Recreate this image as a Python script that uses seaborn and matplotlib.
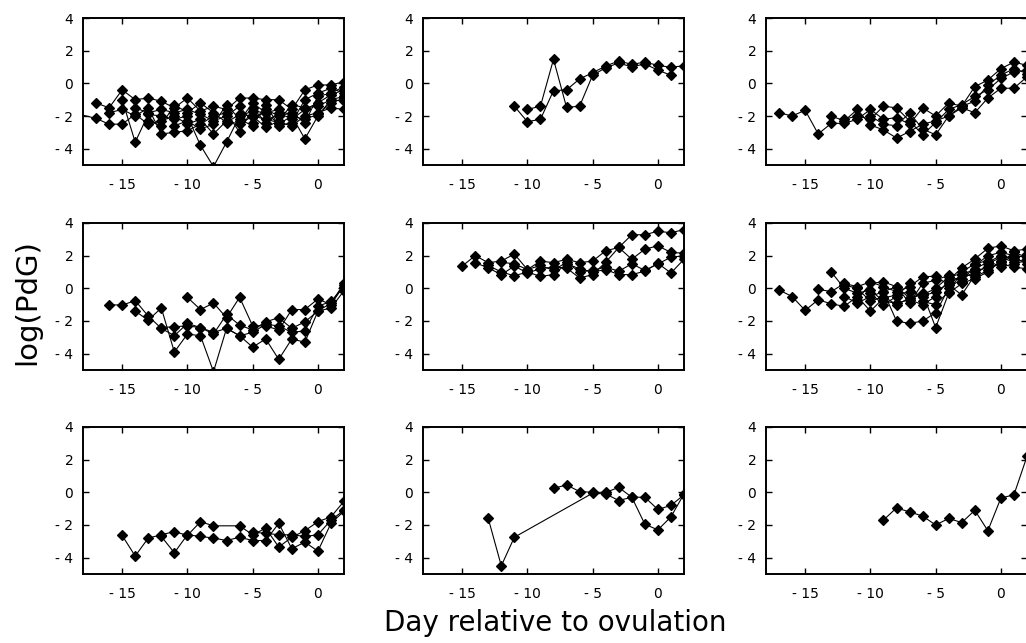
import matplotlib.pyplot as plt
import pandas as pd
import seaborn as sns

# ---------------------------------------------------------------------------
# Data: log(PdG) per cycle, by day relative to ovulation (one list per cycle)
# ---------------------------------------------------------------------------
P1_DAYS = [
    list(range(-17, 3)),
    [-19] + list(range(-17, 3)),
    list(range(-15, 3)),
    list(range(-16, 3)),
    list(range(-14, 3)),
    list(range(-13, 3)),
    list(range(-11, 3)),
    list(range(-6, 3)),
]
P1_LOGPDG = [
    [-1.2, -1.5, -0.4, -1.0, -0.9, -1.1, -1.5, -0.9, -1.7, -1.4, -1.6, -0.9, -0.9, -1.0, -1.0, -1.6, -0.4, -0.1, -0.1, 0.1],
    [-1.75, -2.15, -2.5, -2.5, -1.9, -2.5, -2.3, -2.0, -2.5, -2.2, -3.1, -2.3, -2.5, -2.0, -2.2, -2.4, -2.6, -2.0, -1.8, -1.5, -1.6],
    [-1.0, -3.6, -1.9, -2.0, -2.2, -2.0, -3.8, -5.1, -3.6, -2.0, -1.7, -1.8, -1.6, -2.0, -3.4, -2.0, -1.0, -0.8],
    [-1.8, -1.6, -2.0, -1.5, -3.1, -3.0, -2.9, -2.5, -2.0, -1.8, -3.0, -1.5, -2.4, -1.8, -2.2, -1.6, -1.2, -0.7, -0.4],
    [-1.5, -1.8, -1.6, -1.8, -1.6, -1.9, -2.3, -2.0, -1.4, -2.4, -1.6, -2.0, -1.8, -2.4, -0.8, -0.6, -0.2],
    [-2.3, -2.6, -1.3, -1.8, -1.2, -1.8, -2.4, -1.9, -2.0, -2.7, -2.3, -1.3, -1.5, -1.4, -1.0, -1.1],
    [-2.6, -2.3, -2.8, -2.5, -1.3, -2.2, -2.6, -1.3, -2.6, -2.4, -1.0, -0.6, -0.3, -0.6],
    [-2.3, -1.2, -1.8, -2.5, -2.0, -2.2, -1.9, -1.2, -0.9],
]

P2_DAYS = [list(range(-11, 3)), list(range(-10, 2))]
P2_LOGPDG = [
    [-1.4, -2.35, -2.2, -0.45, -0.4, 0.27, 0.65, 1.06, 1.37, 1.16, 1.3, 1.1, 0.98, 1.08],
    [-1.6, -1.4, 1.47, -1.47, -1.4, 0.5, 0.95, 1.25, 1.0, 1.2, 0.8, 0.5],
]

P3_DAYS = [list(range(-17, 3)), list(range(-13, 3)), list(range(-12, 3)), list(range(-10, 3))]
P3_LOGPDG = [
    [-1.8, -2.0, -1.65, -3.1, -2.45, -2.45, -2.2, -1.6, -2.2, -2.1, -2.5, -1.5, -2.0, -1.2, -1.4, -0.2, 0.2, 0.9, 1.3, 1.1],
    [-2.0, -2.3, -1.6, -2.55, -2.85, -3.35, -2.95, -2.5, -2.3, -2.0, -1.5, -1.8, -0.9, -0.3, -0.3, 0.4],
    [-2.2, -2.0, -2.2, -1.4, -1.5, -2.3, -3.15, -2.4, -1.6, -1.3, -0.8, -0.4, 0.3, 0.7, 0.8],
    [-2.0, -2.5, -2.6, -1.8, -2.8, -3.15, -2.0, -1.4, -1.1, -0.1, 0.5, 0.9, 0.6],
]

P4_DAYS = [list(range(-16, 3)), list(range(-14, 3)), list(range(-10, 3)), list(range(-12, 3))]
P4_LOGPDG = [
    [-1.0, -1.03, -0.75, -1.7, -2.45, -2.9, -2.15, -2.4, -2.8, -1.6, -2.25, -2.55, -2.05, -1.8, -2.45, -2.05, -1.4, -0.9, 0.3],
    [-1.4, -1.95, -1.2, -3.9, -2.8, -2.9, -5.1, -2.45, -2.9, -3.6, -3.1, -4.35, -3.1, -3.3, -1.4, -1.2, -0.15],
    [-0.55, -1.3, -0.9, -1.8, -0.55, -2.3, -2.3, -2.55, -1.3, -1.3, -0.65, -1.0, 0.2],
    [-2.4, -2.35, -2.3, -2.4, -2.7, -2.45, -2.9, -2.7, -2.2, -2.3, -2.7, -2.6, -1.1, -0.8, 0.1],
]

P5_DAYS = [list(range(-15, 3)), list(range(-14, 3)), list(range(-13, 3)), list(range(-12, 3))]
P5_LOGPDG = [
    [1.36, 2.0, 1.57, 1.67, 2.1, 1.15, 1.67, 1.57, 1.78, 1.57, 1.67, 2.3, 2.5, 3.28, 3.28, 3.5, 3.4, 3.6],
    [1.57, 1.25, 0.84, 1.36, 0.94, 1.2, 1.3, 1.25, 0.63, 0.84, 1.6, 2.5, 1.78, 2.4, 2.6, 2.2, 2.15],
    [1.4, 1.0, 0.77, 1.0, 0.73, 0.84, 1.5, 1.2, 1.0, 1.15, 0.84, 0.84, 1.05, 1.53, 0.94, 1.78],
    [1.6, 1.5, 1.15, 1.4, 1.1, 1.6, 1.0, 1.1, 1.3, 1.05, 1.5, 1.1, 1.5, 1.9, 2.0],
]

P6_DAYS = [
    list(range(-17, 3)), list(range(-14, 3)), list(range(-13, 3)), list(range(-12, 3)),
    list(range(-12, 3)), list(range(-11, 3)), list(range(-10, 3)), list(range(-9, 3)),
]
P6_LOGPDG = [
    [-0.1, -0.5, -1.35, -0.7, -0.95, -1.1, -0.5, -1.4, -0.6, -0.4, -0.2, -0.5, -0.2, 0.3, 0.8, 1.2, 1.6, 2.0, 1.8, 2.1],
    [-0.06, -0.2, 0.3, 0.1, 0.4, 0.1, -0.2, 0.1, 0.7, 0.75, 0.2, -0.4, 0.8, 1.5, 1.9, 1.6, 1.8],
    [1.0, 0.0, -0.3, -0.1, -0.8, -0.9, -0.7, -1.0, -0.5, 0.5, 1.25, 1.8, 2.45, 2.6, 2.3, 2.4],
    [-0.5, -0.9, -0.5, -0.2, -2.0, -2.15, -2.0, -1.5, 0.0, 0.6, 1.0, 1.3, 1.5, 1.3, 1.2],
    [0.2, 0.0, -0.8, -0.5, -1.0, -0.6, -0.3, -2.4, -0.3, 0.3, 0.6, 1.0, 1.7, 1.9, 1.5],
    [-0.7, 0.3, 0.4, 0.1, -0.9, 0.3, 0.5, 0.8, 0.4, 1.4, 2.0, 2.2, 2.0, 1.9],
    [-0.3, -1.0, -0.5, 0.3, -0.8, -1.0, -0.2, 1.0, 1.5, 1.7, 1.3, 1.5, 1.7],
    [-0.2, 0.1, -0.6, -0.4, 0.0, 0.7, 0.9, 0.7, 1.1, 1.6, 2.2, 1.9],
]

P7_DAYS = [
    [-15, -14, -13, -12, -11, -10, -9, -8, -6, -5, -4, -3, -2, -1, 0, 1, 2],
    list(range(-12, 3)),
    list(range(-5, 3)),
]
P7_LOGPDG = [
    [-2.64, -3.9, -2.8, -2.6, -2.4, -2.64, -1.8, -2.05, -2.05, -2.6, -2.2, -3.35, -2.75, -2.35, -1.8, -1.5, -0.55],
    [-2.7, -3.7, -2.6, -2.7, -2.8, -2.95, -2.75, -2.95, -2.95, -1.9, -3.45, -3.05, -3.6, -1.9, -1.15],
    [-2.45, -2.5, -2.6, -2.6, -2.7, -2.6, -1.7, -1.1],
]

P8_DAYS = [[-13, -12, -11, -5, -4, -3, -2, -1, 0, 1, 2], list(range(-8, 3))]
P8_LOGPDG = [
    [-1.6, -4.5, -2.75, -0.05, -0.1, -0.5, -0.3, -0.3, -1.05, -0.8, -0.15],
    [0.25, 0.45, 0.05, 0.0, 0.0, 0.3, -0.3, -1.95, -2.3, -1.5, -0.1],
]

P9_DAYS = [list(range(-9, 3))]
P9_LOGPDG = [[-1.7, -0.95, -1.2, -1.45, -2.0, -1.6, -1.85, -1.1, -2.35, -0.35, -0.15, 2.2]]

X_TICKS = [-15, -10, -5, 0]
X_TICKLABELS = ['- 15', '- 10', '- 5', '0']
Y_TICKS = [-4, -2, 0, 2, 4]
Y_TICKLABELS = ['- 4', '- 2', '0', '2', '4']

# ---------------------------------------------------------------------------
# Style
# ---------------------------------------------------------------------------
sns.set_style("ticks")
plt.rcParams.update({
    'font.family': ['DejaVu Sans'],
    'axes.linewidth': 1.4,
    'axes.edgecolor': 'black',
    'text.color': 'black',
})

W, H = 1026, 643
COL_LEFT = [83, 423, 766]
ROW_TOP = [18, 223, 427]
AX_W, AX_H = 261, 147

panels = [
    (P1_DAYS, P1_LOGPDG), (P2_DAYS, P2_LOGPDG), (P3_DAYS, P3_LOGPDG),
    (P4_DAYS, P4_LOGPDG), (P5_DAYS, P5_LOGPDG), (P6_DAYS, P6_LOGPDG),
    (P7_DAYS, P7_LOGPDG), (P8_DAYS, P8_LOGPDG), (P9_DAYS, P9_LOGPDG),
]

fig = plt.figure(figsize=(W / 100, H / 100), dpi=100)

for i, (days, vals) in enumerate(panels):
    r, c = divmod(i, 3)
    ax = fig.add_axes([COL_LEFT[c] / W, 1 - (ROW_TOP[r] + AX_H) / H, AX_W / W, AX_H / H])

    rows = []
    for k, (d, v) in enumerate(zip(days, vals)):
        rows += [{'cycle': k, 'day': dd, 'logpdg': vv} for dd, vv in zip(d, v)]
    df = pd.DataFrame(rows)

    sns.lineplot(data=df, x='day', y='logpdg', units='cycle', estimator=None,
                 color='black', marker='D', markersize=5.5, markeredgewidth=0.9,
                 markeredgecolor='black', linewidth=0.8, legend=False, ax=ax)

    ax.set_xlim(-18, 2)
    ax.set_ylim(-5, 4)
    ax.set_xticks(X_TICKS)
    ax.set_xticklabels(X_TICKLABELS)
    ax.set_yticks(Y_TICKS)
    ax.set_yticklabels(Y_TICKLABELS)
    ax.set_xlabel('')
    ax.set_ylabel('')
    ax.tick_params(direction='in', top=True, right=True, length=4, width=1,
                   labelsize=10, colors='black')
    ax.tick_params(axis='x', pad=9)
    ax.tick_params(axis='y', pad=7)

fig.text(27 / W, 1 - 302 / H, 'log(PdG)', rotation=90, ha='center', va='center', fontsize=21)
fig.text(555 / W, 1 - 623 / H, 'Day relative to ovulation', ha='center', va='center', fontsize=20)

fig.savefig('out.png', dpi=100, facecolor='white')
